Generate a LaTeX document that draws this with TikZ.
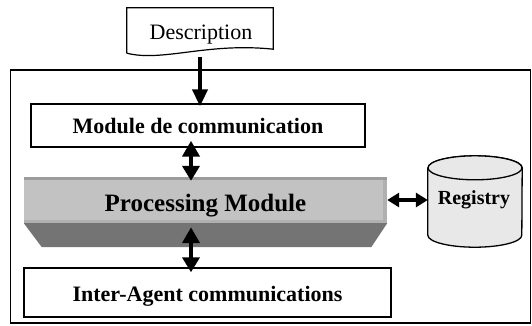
\documentclass[tikz,border=0pt]{standalone}
\usepackage{fontspec}
\setmainfont{Liberation Serif}
\usetikzlibrary{positioning,arrows.meta,calc}
\definecolor{procLight}{HTML}{C2C2C2}
\definecolor{procTop}{HTML}{9C9C9C}
\definecolor{procSide}{HTML}{B0B0B0}
\definecolor{procDark}{HTML}{747474}
\definecolor{regFill}{HTML}{E8E8E8}
\newcommand{\pxfont}[1]{\fontsize{#1}{#1}\selectfont}
\tikzset{
  frame/.style={draw=black,line width=1.6pt,inner sep=0pt},
  docbox/.style={inner sep=0pt,minimum width=146pt,minimum height=45pt},
  modbox/.style={draw=black,line width=1.4pt,fill=white,inner sep=0pt,
    font=\pxfont{22}\bfseries},
  procface/.style={fill=procLight,inner sep=0pt,minimum width=363pt,
    minimum height=46pt,font=\pxfont{25}\bfseries},
  store/.style={inner sep=0pt,minimum width=94pt,minimum height=91pt},
  arrow/.style={-{Triangle[length=17pt,width=15pt]},line width=4.3pt},
  biarrow/.style={{Triangle[length=16pt,width=17pt]}-{Triangle[length=15pt,width=17pt]},
    line width=4.3pt}
}
\begin{document}
\begin{tikzpicture}[x=1pt,y=-1pt]
  \useasboundingbox (0,0) rectangle (532,325);
  % agent frame
  \node[frame,minimum width=520pt,minimum height=253pt] (agent) at (270.5,196.5) {};

  % input document
  \node[docbox] (desc) at (200,30.5) {};
  \draw[line width=1.2pt,fill=white] (desc.south west) -- (desc.north west)
    -- (desc.north east) -- ([yshift=4pt]desc.south east)
    .. controls ($(desc.south east)+(-66,-11)$) and ($(desc.south west)+(36,9)$) .. (desc.south west);
  \node[font=\pxfont{22}] (desctext) at ($(desc.center)+(1,4)$) {Description};

  \node[modbox,minimum width=334pt,minimum height=43pt] (mod) at (198,125.5) {Module de communication};

  % processing block
  \node[procface,text height=27pt,text depth=5pt] (proc) at (205.5,200) {Processing Module};
  \fill[procTop] (proc.north west) rectangle ($(proc.north east)+(0,3)$);
  \fill[procSide] ($(proc.north east)+(-4,3)$) rectangle (proc.south east);
  \fill[procSide] ($(proc.south west)+(0,-3)$) rectangle (proc.south east);
  \fill[procDark] (proc.south west) -- (proc.south east)
    -- ($(proc.south east)+(-16,24)$) -- ($(proc.south west)+(18,24)$) -- cycle;
  \coordinate (procbase) at ($(proc.south)+(0,24)$);

  % registry drum
  \node[store] (reg) at (475,201.5) {};
  \draw[line width=1.3pt,fill=regFill] ($(reg.north west)+(0,12)$) -- ($(reg.south west)+(0,-12)$)
    arc[start angle=180,end angle=360,x radius=47pt,y radius=12pt]
    -- ($(reg.north east)+(0,12)$)
    arc[start angle=0,end angle=180,x radius=47pt,y radius=12pt];
  \draw[line width=1.3pt,fill=regFill] ($(reg.north)+(0,12)$) ellipse[x radius=47pt,y radius=12pt];
  \node[font=\pxfont{20}\bfseries] (regtext) at ($(reg.center)+(-1,-1.5)$) {Registry};

  \node[modbox,minimum width=367pt,minimum height=49pt,text height=23pt,text depth=4.5pt]
    (inter) at (207.5,292.5) {Inter-Agent communications};

  \coordinate (spine) at (191,0);
  \draw[arrow] ($(desc.south)+(0,4)$) -- ($(desc.south |- mod.north)+(0,3)$);
  \draw[biarrow] ($(mod.south -| spine)+(0,-7)$) -- ($(proc.north -| spine)+(0,4)$);
  \draw[biarrow] ($(procbase -| spine)+(0,-20)$) -- ($(inter.north -| spine)+(0,5)$);
  \draw[biarrow,{Triangle[length=12pt,width=14pt]}-{Triangle[length=12pt,width=14pt]}]
    (proc.east) -- (proc.east -| reg.west);
\end{tikzpicture}
\end{document}
